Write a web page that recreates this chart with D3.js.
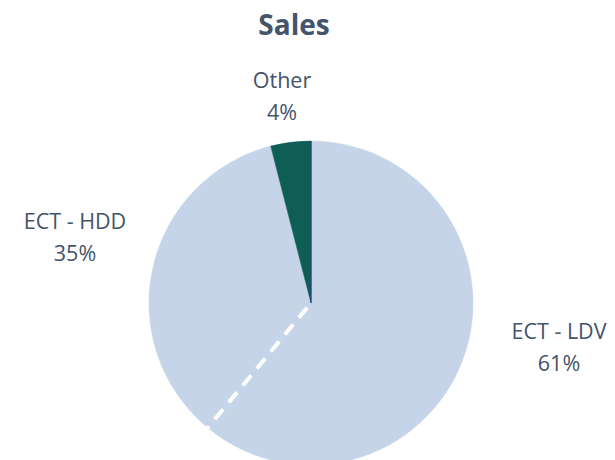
<!DOCTYPE html>
<html>
<head>
<meta charset="utf-8">
<script src="https://cdn.jsdelivr.net/npm/d3@7"></script>
<style>
  body { margin: 0; background: #fff; }
  text { font-family: "Open Sans", sans-serif; fill: #44546A; }
</style>
</head>
<body>
<svg id="chart" width="615" height="460"></svg>
<script>
const categories = ['ECT - LDV', 'ECT - HDD', 'Other'];
const shares = [61, 35, 4];
const colors = ['#C5D4E8', '#C5D4E8', '#0F5E55'];

const W = 615, H = 460;
const CX = 311, CY = 303, R = 162;
// where Excel put each outside label (centre x, first baseline y)
const LABEL_POS = {
  'ECT - LDV': [559, 339],
  'ECT - HDD': [75, 229],
  'Other': [282, 88]
};

const svg = d3.select('#chart');

svg.append('text')
  .attr('x', 294).attr('y', 35)
  .attr('text-anchor', 'middle')
  .style('font-size', '28px')
  .style('font-weight', 'bold')
  .text('Sales');

const data = categories.map((c, i) => ({ name: c, value: shares[i], color: colors[i] }));

const pie = d3.pie().value(d => d.value).sort(null);
const arcs = pie(data);
const arc = d3.arc().innerRadius(0).outerRadius(R);

const g = svg.append('g').attr('transform', `translate(${CX},${CY})`);

g.selectAll('path')
  .data(arcs)
  .join('path')
  .attr('d', arc)
  .attr('fill', d => d.data.color)
  .attr('stroke', d => d.data.color)
  .attr('stroke-width', 0.5);

// point on circle for a given angle
const pt = (a, r) => [Math.sin(a) * r, -Math.cos(a) * r];

// dashed white boundary between the two ECT slices
const b = pt(arcs[0].endAngle, R);
g.append('line')
  .attr('x1', 0).attr('y1', 0)
  .attr('x2', b[0]).attr('y2', b[1])
  .attr('stroke', '#fff')
  .attr('stroke-width', 4)
  .attr('stroke-dasharray', '13 9')
  .attr('stroke-dashoffset', -6);

// thin navy edge at the start of the pie
const t = pt(0, R);
g.append('line')
  .attr('x1', 0).attr('y1', 0)
  .attr('x2', t[0]).attr('y2', t[1])
  .attr('stroke', '#2F3E7A')
  .attr('stroke-width', 1.2);

// labels
const labels = svg.append('g');
arcs.forEach(d => {
  const [lx, ly] = LABEL_POS[d.data.name];
  const txt = labels.append('text')
    .attr('text-anchor', 'middle')
    .style('font-size', '21.5px');
  txt.append('tspan').attr('x', lx).attr('y', ly).text(d.data.name);
  txt.append('tspan').attr('x', lx).attr('y', ly + 32).text(d.data.value + '%');
});
</script>
</body>
</html>
